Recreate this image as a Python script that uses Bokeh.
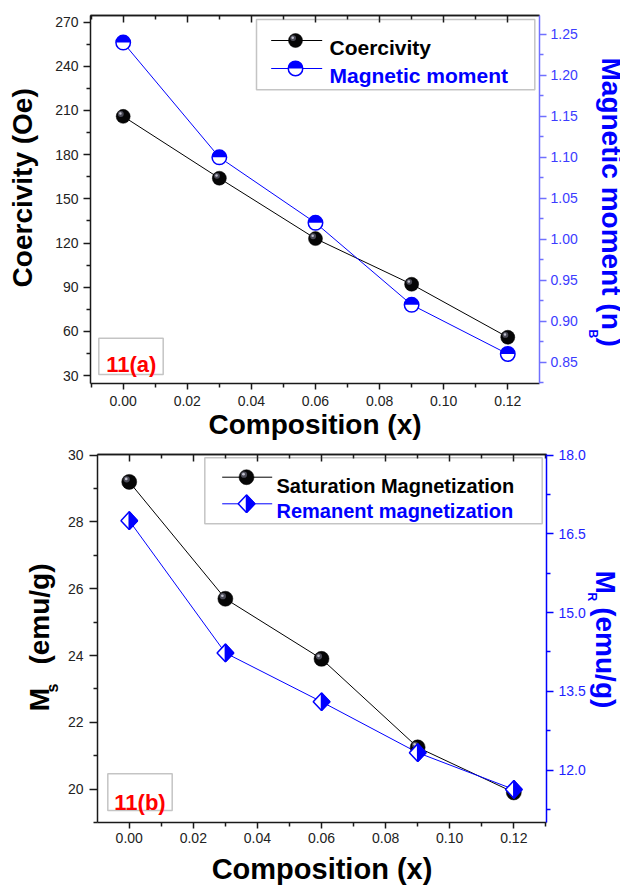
import math
from bokeh.plotting import figure
from bokeh.models import (Range1d, LinearAxis, FixedTicker, PrintfTickFormatter,
                          Label, BoxAnnotation, Title)
from bokeh.embed import file_html
from bokeh.resources import INLINE

# ---------------- data ----------------
composition = [0.00, 0.03, 0.06, 0.09, 0.12]
coercivity_oe = [206, 164, 123, 92, 56]
magnetic_moment_nb = [1.24, 1.10, 1.02, 0.92, 0.86]
ms_emu_g = [29.2, 25.7, 23.9, 21.25, 19.9]
mr_emu_g = [16.75, 14.23, 13.30, 12.33, 11.63]

x_ticks = [0.00, 0.02, 0.04, 0.06, 0.08, 0.10, 0.12]
x_minor = [-0.01, 0.01, 0.03, 0.05, 0.07, 0.09, 0.11, 0.13]
coer_ticks = [30, 60, 90, 120, 150, 180, 210, 240, 270]
coer_minor = [45, 75, 105, 135, 165, 195, 225, 255]
mm_ticks = [0.85, 0.90, 0.95, 1.00, 1.05, 1.10, 1.15, 1.20, 1.25]
mm_minor = [0.825, 0.875, 0.925, 0.975, 1.025, 1.075, 1.125, 1.175, 1.225]
ms_ticks = [20, 22, 24, 26, 28, 30]
ms_minor = [19, 21, 23, 25, 27, 29]
mr_ticks = [12.0, 13.5, 15.0, 16.5, 18.0]
mr_minor = [11.25, 12.75, 14.25, 15.75, 17.25]

# ---------------- layout / style ----------------
FONT = "Liberation Sans"
FW, FH = 449, 368
BLUE = "#0000ff"
NB = "\u00a0"


class Frame:
    def __init__(self, fig_top_page, left, top, xr):
        self.left = left
        self.top = fig_top_page + top
        self.bottom = self.top + FH
        self.xr = xr

    def x(self, page_x):
        return self.xr.start + (page_x - self.left) * (self.xr.end - self.xr.start) / FW

    def y(self, page_y, r):
        return r.start + (self.bottom - page_y) * (r.end - r.start) / FH

    def dx(self, px):
        return px * (self.xr.end - self.xr.start) / FW

    def dy(self, px, r):
        return px * (r.end - r.start) / FH


def make_fig(xr, yr, left, right, top, bottom):
    p = figure(frame_width=FW, frame_height=FH, x_range=xr, y_range=yr,
               output_backend="svg", toolbar_location=None,
               min_border_left=left, min_border_right=right,
               min_border_top=top, min_border_bottom=bottom,
               x_axis_location=None, y_axis_location=None)
    p.grid.grid_line_color = None
    p.outline_line_color = None
    p.background_fill_color = "white"
    p.border_fill_color = "white"
    return p


def style_axis(ax, color, label_color, tick_out, minor_out, tick_in=0, minor_in=0,
               standoff=5, lw=1.5, size="14px"):
    ax.axis_line_color = color
    ax.axis_line_width = lw
    ax.major_tick_line_color = color
    ax.minor_tick_line_color = color
    ax.major_tick_line_width = lw
    ax.minor_tick_line_width = lw
    ax.major_tick_out = tick_out
    ax.major_tick_in = tick_in
    ax.minor_tick_out = minor_out
    ax.minor_tick_in = minor_in
    ax.major_label_text_font = FONT
    ax.major_label_text_font_size = size
    ax.major_label_text_color = label_color
    ax.major_label_standoff = standoff


def axis_title(ax, text, size, standoff, color="black"):
    ax.axis_label = text
    ax.axis_label_text_font = FONT
    ax.axis_label_text_font_size = size
    ax.axis_label_text_font_style = "bold"
    ax.axis_label_text_color = color
    ax.axis_label_standoff = standoff


def side_title(p, side, text, size, align, offset, standoff, valign, color="black"):
    p.add_layout(Title(text=text, align=align, offset=offset, standoff=standoff,
                       vertical_align=valign, text_font=FONT, text_font_size=size,
                       text_font_style="bold", text_color=color), side)


def lbl(p, fr, text, px, py, size, color="black", angle=0.0, align="left",
        bold=True, baseline="alphabetic"):
    p.add_layout(Label(x=px - fr.left, y=fr.bottom - py, x_units="screen", y_units="screen",
                       text=text, angle=angle, text_align=align, text_baseline=baseline,
                       text_font=FONT, text_font_size=size,
                       text_font_style="bold" if bold else "normal", text_color=color))


def box(p, fr, x0, y0, x1, y1, color="#3a3a3a", width=1.5):
    p.add_layout(BoxAnnotation(left=x0 - fr.left, right=x1 - fr.left,
                               top=fr.bottom - y0, bottom=fr.bottom - y1,
                               left_units="screen", right_units="screen",
                               top_units="screen", bottom_units="screen",
                               fill_color=None, line_color=color, line_width=width))


def spheres(p, fr, xs, ys, r, size, **kw):
    p.scatter(xs, ys, size=size, fill_color="#060606", line_color="#000000",
              line_width=0.5, **kw)
    hx = [x + fr.dx(-size * 0.17) for x in xs]
    hy = [y + fr.dy(size * 0.17, r) for y in ys]
    p.scatter(hx, hy, size=size * 0.42, fill_color="#4a4a56", line_color=None, **kw)
    hx2 = [x + fr.dx(-size * 0.2) for x in xs]
    hy2 = [y + fr.dy(size * 0.2, r) for y in ys]
    p.scatter(hx2, hy2, size=size * 0.18, fill_color="#c0c0cc", line_color=None, **kw)


def half_circles(p, xs, ys, size, **kw):
    p.scatter(xs, ys, size=size, fill_color="white", line_color=BLUE, line_width=1.5, **kw)
    p.wedge(xs, ys, radius=size / 2.0, radius_units="screen", start_angle=0,
            end_angle=math.pi, fill_color=BLUE, line_color=None, **kw)


def half_diamonds(p, fr, xs, ys, r, hw, hh, **kw):
    fx = [[x - fr.dx(hw), x, x + fr.dx(hw), x] for x in xs]
    fy = [[y, y + fr.dy(hh, r), y, y - fr.dy(hh, r)] for y in ys]
    p.patches(fx, fy, fill_color="white", line_color=BLUE, line_width=1.5, **kw)
    rx = [[x, x + fr.dx(hw), x] for x in xs]
    ry = [[y + fr.dy(hh, r), y, y - fr.dy(hh, r)] for y in ys]
    p.patches(rx, ry, fill_color=BLUE, line_color=BLUE, line_width=1.5, **kw)


def x_axes(p, standoff, title, title_size, title_standoff):
    bx = LinearAxis(ticker=FixedTicker(ticks=x_ticks, minor_ticks=x_minor),
                    formatter=PrintfTickFormatter(format="%.2f"))
    style_axis(bx, "#1a1a1a", "#222222", 6, 4, standoff=standoff)
    axis_title(bx, title, title_size, title_standoff)
    p.add_layout(bx, "below")
    # top edge: two label-less axes carrying only tick marks (inward)
    for positions, length in ((x_minor, 4), (x_ticks, 7)):
        tx = LinearAxis(ticker=FixedTicker(ticks=[], minor_ticks=positions))
        style_axis(tx, "#1a1a1a", "#222222", 0, 0, minor_in=length, standoff=0)
        p.add_layout(tx, "above")


# ======================= top panel =======================
H1 = 444
xr1 = Range1d(-0.0102, 0.1299)
yr1 = Range1d(24.6, 274.5)
p1 = make_fig(xr1, yr1, 90, 81, 15, 61)
mm_range = Range1d(0.824, 1.273)
p1.extra_y_ranges = {"mm": mm_range}
f1 = Frame(0, 90, 15, xr1)

la = LinearAxis(ticker=FixedTicker(ticks=coer_ticks, minor_ticks=coer_minor),
                formatter=PrintfTickFormatter(format="%d"))
style_axis(la, "#1a1a1a", "#222222", 7, 4, standoff=5)
axis_title(la, NB * 3 + "Coercivity (Oe)", "28px", 14)
p1.add_layout(la, "left")

ra = LinearAxis(y_range_name="mm", ticker=FixedTicker(ticks=mm_ticks, minor_ticks=mm_minor),
                formatter=PrintfTickFormatter(format="%.2f"))
style_axis(ra, "#7070ff", "#3c3cff", 7, 4, standoff=4)
p1.add_layout(ra, "right")
side_title(p1, "right", "B", "12px", "left", 329 - f1.top, 10.44, "bottom", BLUE)
side_title(p1, "right", "Magnetic moment (n" + NB + ")", "28px", "left", 57 - f1.top,
           -40.0, "top", BLUE)
x_axes(p1, 6, "Composition (x)", "28px", 0)

p1.line(composition, coercivity_oe, line_color="black", line_width=1)
p1.line(composition, magnetic_moment_nb, line_color=BLUE, line_width=1, y_range_name="mm")
spheres(p1, f1, composition, coercivity_oe, yr1, 14)
half_circles(p1, composition, magnetic_moment_nb, 14.5, y_range_name="mm")

# legend (top)
box(p1, f1, 256, 19, 534.3, 89.3)
lx = [f1.x(270.7), f1.x(321.7)]
p1.line(lx, [f1.y(40, yr1)] * 2, line_color="black", line_width=1)
spheres(p1, f1, [f1.x(295)], [f1.y(40, yr1)], yr1, 14)
p1.line(lx, [f1.y(68, yr1)] * 2, line_color=BLUE, line_width=1)
half_circles(p1, [f1.x(295)], [f1.y(68, yr1)], 14.5)
lbl(p1, f1, "Coercivity", 329, 46.7, "21px")
lbl(p1, f1, "Magnetic moment", 329, 75, "21px", color=BLUE)

box(p1, f1, 98.3, 337.7, 162.7, 374)
lbl(p1, f1, "11(a)", 130.8, 364, "22px", color="#ff0000", align="center")

# ======================= bottom panel =======================
xr2 = Range1d(-0.0099, 0.1302)
yr2 = Range1d(19.0, 30.02)
p2 = make_fig(xr2, yr2, 97, 74, 10, 66)
mr_range = Range1d(11.0, 18.01)
p2.extra_y_ranges = {"mr": mr_range}
f2 = Frame(H1, 97, 10, xr2)

la2 = LinearAxis(ticker=FixedTicker(ticks=ms_ticks, minor_ticks=ms_minor),
                 formatter=PrintfTickFormatter(format="%d"))
style_axis(la2, "#1a1a1a", "#222222", 8, 4, standoff=6)
p2.add_layout(la2, "left")
side_title(p2, "left", "s", "16px", "right", 683 - f2.top, 4.06, "top")
side_title(p2, "left", "M" + NB * 3 + "(emu/g)", "28px", "right", 563 - f2.top, -26.9, "bottom")

ra2 = LinearAxis(y_range_name="mr", ticker=FixedTicker(ticks=mr_ticks, minor_ticks=mr_minor),
                 formatter=PrintfTickFormatter(format="%.1f"))
style_axis(ra2, BLUE, "#1e1eff", 7, 4, standoff=5)
p2.add_layout(ra2, "right")
side_title(p2, "right", "R", "12px", "left", 592 - f2.top, -8.0, "bottom", BLUE)
side_title(p2, "right", "M" + NB + "\u2009(emu/g)", "28px", "left", 570 - f2.top,
           -18.5, "top", BLUE)
x_axes(p2, 4, "Composition (x)", "29px", 7)

p2.line(composition, ms_emu_g, line_color="black", line_width=1)
p2.line(composition, mr_emu_g, line_color=BLUE, line_width=1, y_range_name="mr")
spheres(p2, f2, composition, ms_emu_g, yr2, 15)
half_diamonds(p2, f2, composition, mr_emu_g, mr_range, 8.3, 8.8, y_range_name="mr")

# legend (bottom)
box(p2, f2, 204.3, 457.3, 541.7, 523.3)
lx2 = [f2.x(221.7), f2.x(271.7)]
p2.line(lx2, [f2.y(476.7, yr2)] * 2, line_color="black", line_width=1)
spheres(p2, f2, [f2.x(246)], [f2.y(476.7, yr2)], yr2, 15)
p2.line(lx2, [f2.y(503.3, yr2)] * 2, line_color=BLUE, line_width=1)
half_diamonds(p2, f2, [f2.x(246)], [f2.y(503.3, yr2)], yr2, 8.3, 8.8)
lbl(p2, f2, "Saturation Magnetization", 276, 485, "20px")
lbl(p2, f2, "Remanent magnetization", 276, 510.7, "20px", color=BLUE)

box(p2, f2, 107.3, 773.3, 171.7, 810)
lbl(p2, f2, "11(b)", 139.5, 802, "22px", color="#ff0000", align="center")

# two independent roots, stacked (no cross-plot border alignment)
open("out.html", "w").write(file_html([p1, p2], INLINE))
